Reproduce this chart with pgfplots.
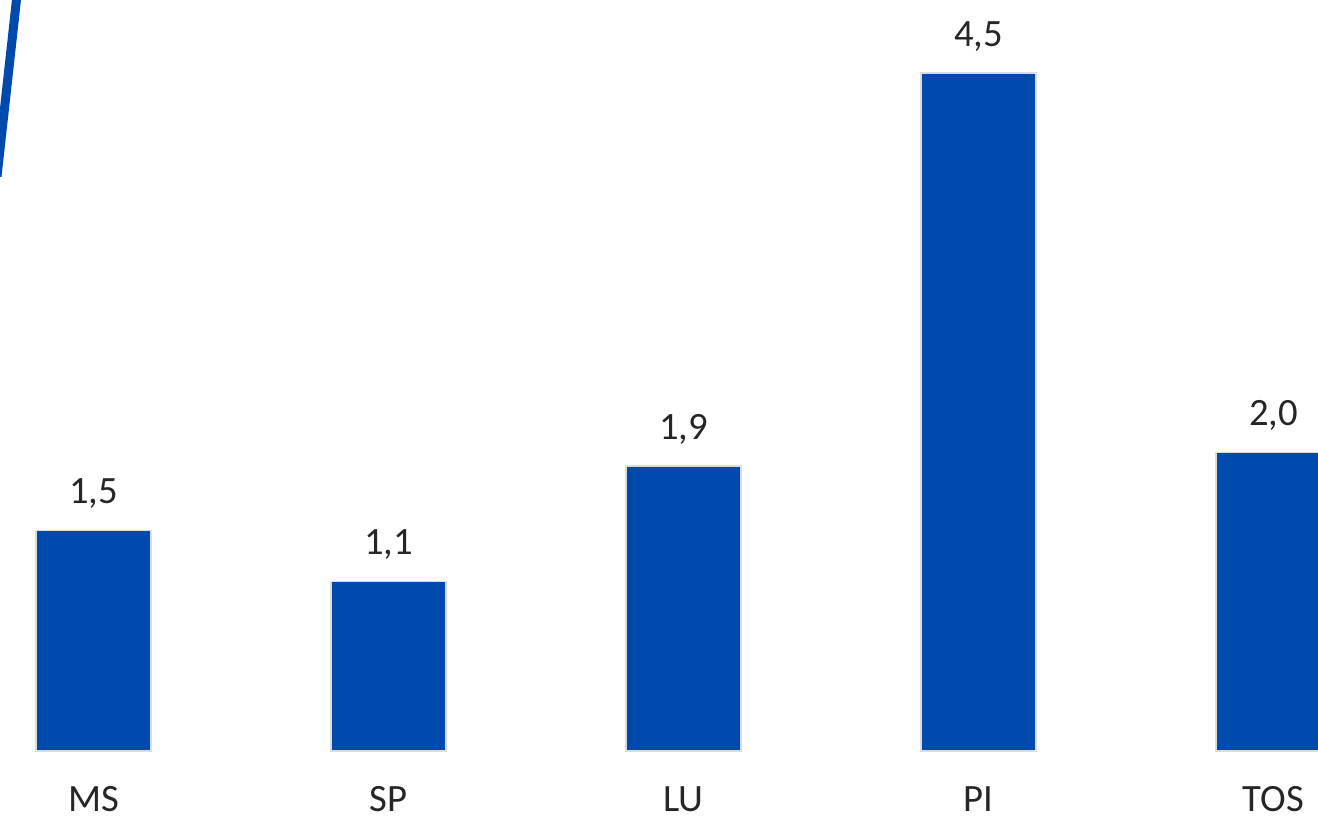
\documentclass[border=0pt]{standalone}
\usepackage{fontspec}
\setmainfont{Carlito}
\usepackage{pgfplots}
\pgfplotsset{compat=1.18}
\definecolor{barblue}{HTML}{004AAD}
\definecolor{txt}{HTML}{262626}
\begin{document}
\begin{tikzpicture}
\begin{axis}[
  name=ax,
  scale only axis,
  width=988.5pt, height=612.75pt,
  xmin=-0.31695, xmax=4.15085,
  ymin=-0.44, ymax=5.00667,
  axis line style={draw=none},
  major tick style={draw=none},
  ytick=\empty,
  xtick={0,1,2,3,4},
  xticklabels={MS,SP,LU,PI,TOS},
  xticklabel style={anchor=base, inner sep=0pt, yshift=8.5pt, font=\fontsize{29}{33}\selectfont, text=txt},
  ybar, bar width=86.25pt,
  /pgf/number format/assume math mode=true,
  /pgf/number format/fixed,
  /pgf/number format/fixed zerofill,
  /pgf/number format/precision=1,
  /pgf/number format/use comma,
]
\addplot[fill=barblue, draw=black!14, line width=1.2pt,
  nodes near coords,
  every node near coord/.append style={anchor=base, inner sep=0pt, yshift=20pt, font=\fontsize{29}{33}\selectfont, text=txt},
] coordinates {(0,1.47) (1,1.13) (2,1.90) (3,4.52) (4,1.99)};
\addplot[barblue, line width=6.75pt, no marks, sharp plot, forget plot]
  coordinates {(-0.2559,5.1) (-0.3271,3.83)};
\end{axis}
\pgfresetboundingbox
\useasboundingbox (ax.south west) rectangle (ax.north east);
\end{tikzpicture}
\end{document}
